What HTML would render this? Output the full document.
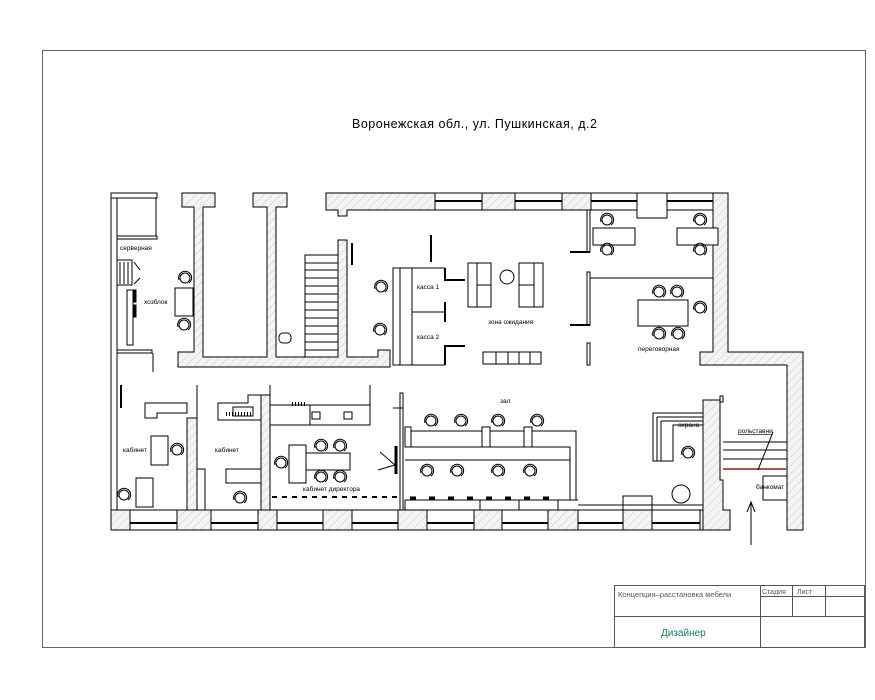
<!DOCTYPE html>
<html><head><meta charset="utf-8"><style>
html,body{margin:0;padding:0;background:#fff}
svg{display:block}
text{font-family:"Liberation Sans",sans-serif;fill:#000}
</style></head><body>
<svg width="875" height="700" viewBox="0 0 875 700" xmlns="http://www.w3.org/2000/svg">
<defs>
<pattern id="h" width="6" height="6" patternUnits="userSpaceOnUse" patternTransform="rotate(45)">
<rect width="6" height="6" fill="#f4f4f4"/><line x1="0" y1="0" x2="0" y2="6" stroke="#c8c8c8" stroke-width="1"/>
</pattern>
<g id="ch"><circle r="5" fill="#fff" stroke="#000" stroke-width="1"/><path d="M-6,2 A6.5,6.5 0 1 1 4,5" fill="none" stroke="#000" stroke-width="1"/></g>
</defs>
<rect x="0" y="0" width="875" height="700" fill="#fff"/>
<rect x="42.5" y="50.5" width="823" height="597" fill="none" stroke="#666"/>
<text x="352" y="128" font-size="12.5" letter-spacing="0.5">Воронежская  обл.,  ул. Пушкинская,  д.2</text>

<g stroke="#000" stroke-width="1">
<rect x="111" y="193" width="6" height="337" fill="#fff"/>
<rect x="111" y="193" width="46" height="5" fill="#fff"/>
<line x1="156" y1="198" x2="156" y2="238"/>
<rect x="117" y="236" width="40" height="3" fill="#fff"/>
<rect x="117" y="350" width="35" height="3" fill="#fff"/>
<line x1="153" y1="353" x2="153" y2="372"/>
<path d="M182,193H215V207H203V357H267V207H253V193H287V207H276V357H338V240H347V357H378V350H390V367H178V352H194V207H182Z" fill="url(#h)"/>
<path d="M326,193H713V210H347V216H338V210H326Z" fill="url(#h)"/>
<g fill="#fff">
<rect x="435" y="193" width="47" height="17"/><rect x="515" y="193" width="47" height="17"/>
<rect x="591" y="193" width="46" height="17"/><rect x="637" y="193" width="30" height="25"/><rect x="667" y="193" width="46" height="17"/>
</g>
<g stroke-width="2"><line x1="435" y1="201" x2="482" y2="201"/><line x1="515" y1="201" x2="562" y2="201"/><line x1="591" y1="201" x2="637" y2="201"/><line x1="667" y1="201" x2="713" y2="201"/></g>
<path d="M713,193H728V352H803V530H787V365H700V352H713Z" fill="url(#h)"/>
<rect x="111" y="510" width="609" height="20" fill="url(#h)"/>
<g fill="#fff">
<rect x="130" y="510" width="47" height="20"/><rect x="211" y="510" width="47" height="20"/><rect x="277" y="510" width="46" height="20"/>
<rect x="352" y="510" width="46" height="20"/><rect x="427" y="510" width="47" height="20"/><rect x="502" y="510" width="46" height="20"/>
<rect x="578" y="510" width="45" height="20"/><rect x="652" y="510" width="48" height="20"/>
</g>
<g stroke-width="2"><line x1="130" y1="523" x2="177" y2="523"/><line x1="211" y1="523" x2="258" y2="523"/><line x1="277" y1="523" x2="323" y2="523"/><line x1="352" y1="523" x2="398" y2="523"/><line x1="427" y1="523" x2="474" y2="523"/><line x1="502" y1="523" x2="548" y2="523"/><line x1="578" y1="523" x2="623" y2="523"/><line x1="652" y1="523" x2="700" y2="523"/></g>
<rect x="623" y="496" width="29" height="14" fill="#fff"/>
<path d="M703,400H720V480H723V510H730V530H703Z" fill="url(#h)"/>
<rect x="720" y="396" width="3" height="6" fill="#fff"/>
<rect x="187" y="418" width="10" height="92" fill="url(#h)"/>
<path d="M261,395H270V510H261Z" fill="url(#h)"/>
<line x1="197" y1="385" x2="197" y2="418"/>
<line x1="121" y1="385" x2="121" y2="408" stroke-width="2"/>
<line x1="270" y1="385" x2="270" y2="403"/>
<line x1="370" y1="385" x2="370" y2="405"/>
<rect x="305" y="255" width="33" height="102" fill="#fff"/>
<g>
<line x1="305" y1="263" x2="338" y2="263"/><line x1="305" y1="270" x2="338" y2="270"/><line x1="305" y1="278" x2="338" y2="278"/><line x1="305" y1="286" x2="338" y2="286"/><line x1="305" y1="294" x2="338" y2="294"/><line x1="305" y1="302" x2="338" y2="302"/><line x1="305" y1="310" x2="338" y2="310"/><line x1="305" y1="318" x2="338" y2="318"/><line x1="305" y1="326" x2="338" y2="326"/><line x1="305" y1="334" x2="338" y2="334"/><line x1="305" y1="342" x2="338" y2="342"/><line x1="305" y1="350" x2="338" y2="350"/>
</g>
<line x1="352" y1="243" x2="352" y2="265" stroke-width="2"/>
<rect x="279" y="333" width="12" height="10" rx="4" fill="#fff"/>
<rect x="117" y="260" width="15" height="25" fill="#fff"/>
<line x1="120" y1="262" x2="120" y2="284"/><line x1="124" y1="262" x2="124" y2="284"/><line x1="128" y1="262" x2="128" y2="284"/>
<line x1="134" y1="262" x2="140" y2="270"/><line x1="134" y1="284" x2="140" y2="278"/>
<rect x="127" y="290" width="6" height="55" fill="#fff"/>
<rect x="134" y="290" width="2" height="12" fill="#000"/><rect x="134" y="305" width="2" height="12" fill="#000"/>
<rect x="175" y="288" width="18" height="28" fill="#fff"/>
<rect x="393" y="268" width="7" height="97" fill="#fff"/>
<line x1="412" y1="268" x2="412" y2="365"/>
<line x1="400" y1="268" x2="445" y2="268"/>
<line x1="412" y1="312" x2="445" y2="312"/>
<line x1="431" y1="235" x2="431" y2="262" stroke-width="2"/>
<path d="M445,268V280H465" fill="none" stroke-width="2"/>
<path d="M445,302V322" fill="none" stroke-width="2"/>
<path d="M445,365V346H465" fill="none" stroke-width="2"/>
<line x1="400" y1="365" x2="445" y2="365"/>
<rect x="468" y="263" width="23" height="44" fill="#fff"/><line x1="477" y1="263" x2="477" y2="307"/><line x1="477" y1="285" x2="491" y2="285"/>
<rect x="519" y="263" width="24" height="44" fill="#fff"/><line x1="534" y1="263" x2="534" y2="307"/><line x1="519" y1="285" x2="534" y2="285"/>
<circle cx="507" cy="277" r="7" fill="#fff"/>
<rect x="483" y="352" width="58" height="12" fill="#fff"/><line x1="496" y1="352" x2="496" y2="364"/><line x1="508" y1="352" x2="508" y2="364"/><line x1="519" y1="352" x2="519" y2="364"/><line x1="530" y1="352" x2="530" y2="364"/>
<rect x="587" y="210" width="3" height="42" fill="#fff"/><line x1="570" y1="252" x2="590" y2="252" stroke-width="2"/>
<rect x="587" y="272" width="3" height="53" fill="#fff"/><line x1="570" y1="325" x2="590" y2="325" stroke-width="2"/>
<line x1="590" y1="278" x2="713" y2="278"/>
<rect x="587" y="343" width="3" height="22" fill="#fff"/>
<rect x="593" y="228" width="42" height="17" fill="#fff"/>
<rect x="677" y="228" width="41" height="17" fill="#fff"/>
<rect x="638" y="300" width="50" height="26" fill="#fff"/>
<path d="M145,403H187V413H157V418H145Z" fill="#fff"/>
<rect x="151" y="436" width="17" height="29" fill="#fff"/>
<rect x="136" y="478" width="17" height="29" fill="#fff"/>
<rect x="226" y="469" width="35" height="14" fill="#fff"/>
<rect x="197" y="469" width="8" height="41" fill="#fff"/>
<path d="M218,403H248V395H261V420H218Z" fill="#fff"/>
<rect x="233" y="407" width="20" height="9" fill="#fff"/>
<rect x="270" y="405" width="100" height="20" fill="#fff"/>
<line x1="310" y1="405" x2="310" y2="425"/>
<rect x="312" y="412" width="8" height="7" fill="#fff"/><rect x="344" y="412" width="8" height="7" fill="#fff"/>
<rect x="289" y="445" width="17" height="38" fill="#fff"/>
<rect x="306" y="453" width="44" height="17" fill="#fff"/>
<path d="M380,452L395,465L378,470" fill="none"/>
<line x1="396" y1="446" x2="396" y2="474" stroke-width="3"/>
<line x1="272" y1="497" x2="398" y2="497" stroke-width="2" stroke-dasharray="5,5"/>
<line x1="292" y1="404" x2="306" y2="404" stroke-width="4" stroke-dasharray="1,2"/>
<line x1="226" y1="414" x2="252" y2="414" stroke-width="4" stroke-dasharray="1,2"/>
<rect x="400" y="393" width="3" height="117" fill="#fff"/>
<line x1="393" y1="408" x2="403" y2="408"/>
<path d="M405,431H576V500H570V447H405Z" fill="#fff"/>
<line x1="405" y1="460" x2="570" y2="460"/>
<rect x="405" y="427" width="6" height="20" fill="#fff"/><rect x="482" y="427" width="8" height="20" fill="#fff"/><rect x="524" y="427" width="8" height="20" fill="#fff"/>
<line x1="405" y1="500" x2="578" y2="500"/>
<line x1="405" y1="500" x2="405" y2="510"/>
<line x1="480" y1="500" x2="480" y2="510"/><line x1="519" y1="500" x2="519" y2="510"/><line x1="558" y1="500" x2="558" y2="510"/>
<line x1="410" y1="498" x2="555" y2="498" stroke-width="3" stroke-dasharray="6,13"/>
<line x1="578" y1="505" x2="703" y2="505"/>
<path d="M653,413H703V425H673V461H653Z" fill="#fff"/>
<path d="M657,417H703M657,417V461M661,421H703M661,421V461" fill="none"/>
<circle cx="681" cy="494" r="9" fill="#fff"/>
<line x1="723" y1="442" x2="787" y2="442"/><line x1="723" y1="450" x2="787" y2="450"/><line x1="723" y1="459" x2="787" y2="459"/>
<line x1="723" y1="469" x2="787" y2="469" stroke="#a55" stroke-width="2"/>
<line x1="758" y1="470" x2="773" y2="432"/>
<rect x="763" y="476" width="24" height="24" fill="#fff"/>
<line x1="751" y1="545" x2="751" y2="503"/>
<path d="M747,512L751,502L755,512" fill="none"/>
</g>

<g>
<use href="#ch" x="185" y="278"/><use href="#ch" x="184" y="325"/>
<use href="#ch" x="381" y="287"/><use href="#ch" x="380" y="330"/>
<use href="#ch" x="607" y="220"/><use href="#ch" x="607" y="250"/><use href="#ch" x="700" y="220"/><use href="#ch" x="700" y="250"/>
<use href="#ch" x="659" y="292"/><use href="#ch" x="677" y="292"/><use href="#ch" x="700" y="308"/><use href="#ch" x="659" y="334"/><use href="#ch" x="678" y="334"/>
<use href="#ch" x="177" y="450"/><use href="#ch" x="124" y="495"/><use href="#ch" x="240" y="498"/>
<use href="#ch" x="321" y="446"/><use href="#ch" x="340" y="446"/><use href="#ch" x="321" y="477"/><use href="#ch" x="340" y="477"/><use href="#ch" x="281" y="463"/>
<use href="#ch" x="431" y="421"/><use href="#ch" x="461" y="421"/><use href="#ch" x="498" y="421"/><use href="#ch" x="537" y="421"/>
<use href="#ch" x="427" y="471"/><use href="#ch" x="457" y="471"/><use href="#ch" x="498" y="471"/><use href="#ch" x="530" y="471"/>
<use href="#ch" x="688" y="453"/>
</g>

<g font-size="6.5">
<text x="120" y="250">серверная</text>
<text x="144" y="304">хозблок</text>
<text x="417" y="289">касса 1</text>
<text x="417" y="339">касса 2</text>
<text x="488" y="324">зона ожидания</text>
<text x="638" y="351">переговорная</text>
<text x="500" y="403">зал</text>
<text x="123" y="452">кабинет</text>
<text x="215" y="452">кабинет</text>
<text x="303" y="491">кабинет директора</text>
<text x="678" y="427">охрана</text>
<text x="738" y="433" text-decoration="underline">рольставни</text>
<text x="756" y="489">банкомат</text>
</g>

<g stroke="#555" fill="none">
<rect x="614.5" y="585.5" width="250" height="62"/>
<line x1="760" y1="596.5" x2="865" y2="596.5"/>
<line x1="614" y1="616.5" x2="865" y2="616.5"/>
<line x1="760.5" y1="585" x2="760.5" y2="648"/>
<line x1="792.5" y1="585" x2="792.5" y2="616"/>
<line x1="825.5" y1="585" x2="825.5" y2="616"/>
</g>
<text x="618" y="597" font-size="7.5" style="fill:#555">Концепция–расстановка  мебели</text>
<text x="762" y="594" font-size="7" style="fill:#555">Стадия</text>
<text x="797" y="594" font-size="7" style="fill:#555">Лист</text>
<text x="661" y="636" font-size="10" style="fill:#1a7a6a">Дизайнер</text>
</svg>
</body></html>
